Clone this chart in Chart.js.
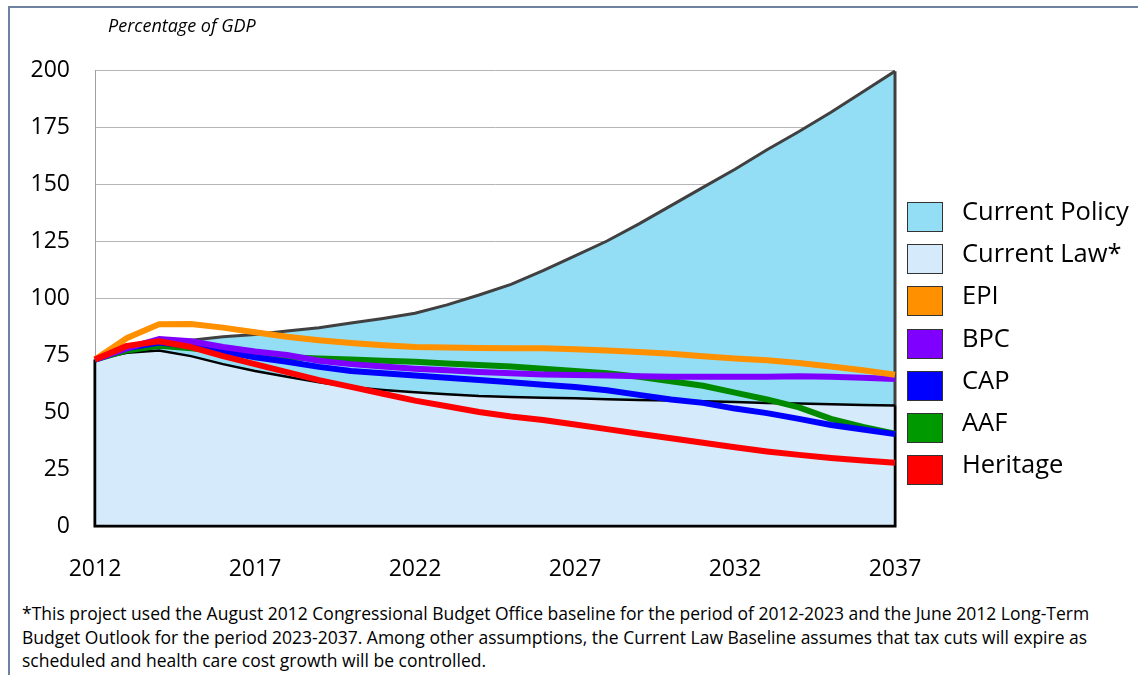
<!DOCTYPE html>
<html>
<head>
<meta charset="utf-8">
<script src="https://cdn.jsdelivr.net/npm/chart.js@4.4.1/dist/chart.umd.min.js"></script>
<style>
  body { margin: 0; background: #fff; font-family: "Open Sans", sans-serif; }
  #page { position: relative; width: 1138px; height: 675px; overflow: hidden; }
  #frame { position: absolute; left: 8px; top: 6px; width: 1200px; height: 700px;
           border-left: 2px solid #6e819e; border-top: 2px solid #6e819e; }
  #wrap { position: absolute; left: 0; top: 0; width: 1138px; height: 600px; }
  #unit { position: absolute; left: 108px; top: 15px; font-size: 18px; line-height: 20px; font-style: italic; color: #000; }
  #legend { position: absolute; left: 0; top: 0; }
  .item { position: absolute; left: 907px; width: 230px; height: 30px; }
  .sw { position: absolute; left: 0; top: 0; width: 34px; height: 28px; border: 1px solid #333; }
  .lab { position: absolute; left: 55px; top: -12px; font-size: 25.5px; line-height: 40px; white-space: nowrap; color: #000; }
  #note { position: absolute; left: 22px; top: 602px; font-size: 17.5px; line-height: 23.5px; color: #000; white-space: nowrap; }
</style>
</head>
<body>
<div id="page">
  <div id="frame"></div>
  <div id="wrap"><canvas id="myChart"></canvas></div>
  <div id="unit">Percentage of GDP</div>
  <div id="legend"></div>
  <div id="note">*This project used the August 2012 Congressional Budget Office baseline for the period of 2012-2023 and the June 2012 Long-Term<br>Budget Outlook for the period 2023-2037. Among other assumptions, the Current Law Baseline assumes that tax cuts will expire as<br>scheduled and health care cost growth will be controlled.</div>
</div>
<script>
const years = [];
for (let y = 2012; y <= 2037; y++) years.push(String(y));

const yTicks = [0, 25, 50, 75, 100, 125, 150, 175, 200];

const currentPolicy = [73, 77, 80, 81.5, 83, 84, 85.5, 87, 89, 91, 93.3, 97, 101.3, 106, 112, 118.5, 125, 132.5, 140.5, 148.5, 156.5, 165, 173, 181.5, 190.5, 199.5];
const currentLaw = [73, 76, 77, 74.5, 71, 68, 65.5, 63, 61, 59.7, 58.7, 57.8, 57, 56.6, 56.3, 56, 55.6, 55.3, 55, 54.7, 54.4, 54, 53.7, 53.4, 53.1, 52.8];
const epi = [73, 82.5, 88.5, 88.6, 87, 85, 83, 81.5, 80.3, 79.3, 78.5, 78.3, 78.1, 78, 78, 77.5, 77, 76.3, 75.5, 74.5, 73.5, 72.7, 71.5, 70, 68.3, 66.3];
const bpc = [73, 78, 82, 81, 78.5, 76.5, 75, 72.5, 71, 70, 69, 68.3, 67.5, 67, 66.5, 66.2, 66, 65.7, 65.5, 65.5, 65.5, 65.5, 65.7, 65.5, 65, 64.5];
const cap = [73, 78, 80.5, 79, 76.5, 74, 72, 69.8, 68, 67, 66, 65, 64, 63, 62, 61, 59.5, 57.5, 55.5, 54, 51.5, 49.5, 47, 44.3, 42.3, 40.3];
const aaf = [73, 77, 79, 78, 76.5, 75, 74, 73.5, 73, 72.5, 72, 71.3, 70.6, 70, 69, 68, 67, 65.5, 63.5, 61.5, 58.5, 55.5, 52, 47, 43.5, 40.5];
const heritage = [73, 79, 81, 78.5, 74.5, 71, 67.5, 64, 61, 58, 55, 52.5, 50, 48, 46.5, 44.5, 42.5, 40.5, 38.5, 36.5, 34.5, 32.7, 31.2, 29.8, 28.7, 27.7];

const legendItems = [
  { label: "Current Policy", color: "#93def4" },
  { label: "Current Law*", color: "#d5eafb" },
  { label: "EPI", color: "#ff9000" },
  { label: "BPC", color: "#8000ff" },
  { label: "CAP", color: "#0000ff" },
  { label: "AAF", color: "#009a00" },
  { label: "Heritage", color: "#ff0000" },
];

// outline the left, bottom and right edges of the filled areas
const edgePlugin = {
  id: "edges",
  afterDatasetDraw(chart, args) {
    const ds = chart.data.datasets[args.index];
    if (!ds.fill) return;
    const { ctx, scales: { x, y } } = chart;
    const last = ds.data.length - 1;
    const x0 = x.getPixelForValue(0);
    const x1 = x.getPixelForValue(last);
    const yb = y.getPixelForValue(0);
    ctx.save();
    ctx.strokeStyle = ds.borderColor;
    ctx.lineWidth = ds.borderWidth;
    ctx.lineJoin = "miter";
    ctx.beginPath();
    ctx.moveTo(x0, y.getPixelForValue(ds.data[0]));
    ctx.lineTo(x0, yb);
    ctx.lineTo(x1, yb);
    ctx.lineTo(x1, y.getPixelForValue(ds.data[last]));
    ctx.stroke();
    ctx.restore();
  },
};

function lineSet(label, data, color, order) {
  return {
    label, data, order,
    borderColor: color,
    borderWidth: 6,
    fill: false,
    pointRadius: 0,
    tension: 0,
    borderJoinStyle: "round",
    borderCapStyle: "butt",
  };
}

const ctx = document.getElementById("myChart");

new Chart(ctx, {
  type: "line",
  data: {
    labels: years,
    datasets: [
      {
        label: "Current Policy", data: currentPolicy, order: 10,
        borderColor: "#404040", borderWidth: 3, backgroundColor: "#93def4",
        fill: "origin", pointRadius: 0, tension: 0,
      },
      {
        label: "Current Law*", data: currentLaw, order: 9,
        borderColor: "#000000", borderWidth: 2.5, backgroundColor: "#d5eafb",
        fill: "origin", pointRadius: 0, tension: 0,
      },
      lineSet("AAF", aaf, "#008a00", 5),
      lineSet("CAP", cap, "#0000ff", 4),
      lineSet("BPC", bpc, "#8000ff", 3),
      lineSet("EPI", epi, "#ff9000", 2),
      lineSet("Heritage", heritage, "#ff0000", 1),
    ],
  },
  options: {
    responsive: true,
    maintainAspectRatio: false,
    animation: false,
    layout: { padding: { left: 0, top: 70, right: 243, bottom: 0 } },
    plugins: { legend: { display: false }, tooltip: { enabled: false } },
    scales: {
      x: {
        grid: { display: false, drawTicks: false },
        border: { display: false },
        afterFit: (axis) => { axis.height = 74; },
        ticks: {
          autoSkip: false,
          maxRotation: 0,
          padding: 30,
          color: "#000",
          font: { family: "Open Sans", size: 23 },
          callback: function (value, index) {
            return (index % 5 === 0) ? years[index] : "";
          },
        },
      },
      y: {
        min: 0,
        max: 200,
        afterFit: (axis) => { axis.width = 95; },
        afterBuildTicks: (axis) => { axis.ticks = yTicks.map((v) => ({ value: v })); },
        grid: { color: "#b5b5b5", lineWidth: 1, drawTicks: false },
        border: { display: true, color: "#a0a0a0", width: 1 },
        ticks: {
          padding: 25,
          color: "#000",
          font: { family: "Open Sans", size: 23 },
        },
      },
    },
  },
  plugins: [edgePlugin],
});

const legend = document.getElementById("legend");
legendItems.forEach((item, i) => {
  const div = document.createElement("div");
  div.className = "item";
  div.style.top = (202 + i * 42.2) + "px";
  div.innerHTML = `<div class="sw" style="background:${item.color}"></div><span class="lab">${item.label}</span>`;
  legend.appendChild(div);
});
</script>
</body>
</html>
